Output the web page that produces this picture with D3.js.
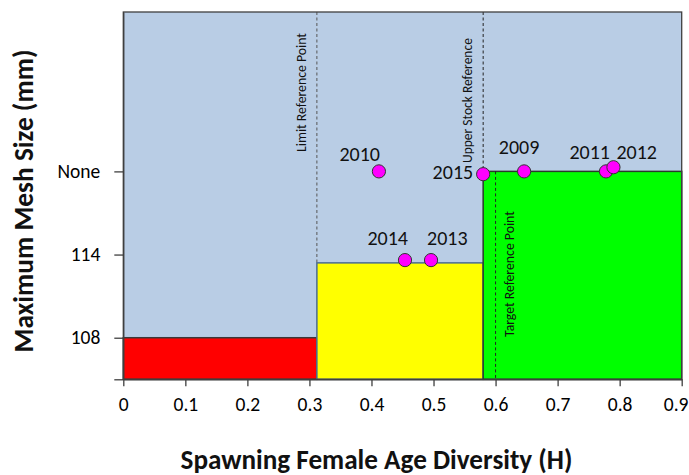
<!DOCTYPE html>
<html><head><meta charset="utf-8">
<script src="https://cdn.jsdelivr.net/npm/d3@7"></script>
<style>
html,body{margin:0;padding:0;background:#fff;}
svg{display:block;font-family:Carlito, Lato, "Open Sans", sans-serif;}
</style></head>
<body>
<div id="chart"></div>
<script>
// ---- data ----
const years = ["2009","2010","2011","2012","2013","2014","2015"];
const diversity = [0.646, 0.412, 0.778, 0.790, 0.496, 0.454, 0.580];
const meshSize = [120, 120, 120, 120.3, 113.6, 113.6, 119.8];

const zoneNames = ["Critical","Cautious","Healthy"];
const zoneStart = [0, 0.312, 0.580];
const zoneEnd = [0.312, 0.580, 0.9];
const zoneMesh = [108, 113.4, 120];
const zoneColors = ["#FF0000","#FFFF00","#00FF00"];

const refNames = ["Limit Reference Point","Upper Stock Reference","Target Reference Point"];
const refValues = [0.312, 0.580, 0.600];

const xTicks = [0,0.1,0.2,0.3,0.4,0.5,0.6,0.7,0.8,0.9];
const yTickValues = [108,114,120];
const yTickLabels = ["108","114","None"];

// ---- layout ----
const W = 689, H = 475;
const pL = 123.3, pR = 681.7, pT = 12, pB = 379.3;
const x = d3.scaleLinear().domain([0,0.9]).range([pL,pR]);
const y = d3.scaleLinear().domain([105,131.5]).range([pB,pT]);

const svg = d3.select("#chart").append("svg").attr("width",W).attr("height",H);

// background
svg.append("rect").attr("x",pL).attr("y",pT).attr("width",pR-pL).attr("height",pB-pT)
  .attr("fill","#B9CDE5");

// reference lines extents (line-end levels)
const refFrom = [131.5, 131.5, 120];
const refTo = [113.4, 120, 105];
const refColors = ["#555","#222","#222"];

// limit & upper lines under zones
[0,1].forEach(i=>{
  svg.append("line").attr("x1",x(refValues[i])).attr("x2",x(refValues[i]))
    .attr("y1",y(refFrom[i])).attr("y2",y(refTo[i]))
    .attr("stroke",refColors[i]).attr("stroke-width",1).attr("stroke-dasharray","3,2.5");
});

// zones
const zoneStroke = ["#3a3a3a","#4A6C96","#2b3a2b"];
svg.selectAll("rect.zone").data(zoneNames).enter().append("rect").attr("class","zone")
  .attr("x",(d,i)=>x(zoneStart[i]))
  .attr("y",(d,i)=>y(zoneMesh[i]))
  .attr("width",(d,i)=>x(zoneEnd[i])-x(zoneStart[i]))
  .attr("height",(d,i)=>y(105)-y(zoneMesh[i]))
  .attr("fill",(d,i)=>zoneColors[i])
  .attr("stroke",(d,i)=>zoneStroke[i]).attr("stroke-width",1.5);

// target line over green
svg.append("line").attr("x1",x(refValues[2])).attr("x2",x(refValues[2]))
  .attr("y1",y(refFrom[2])).attr("y2",y(refTo[2]))
  .attr("stroke",refColors[2]).attr("stroke-width",1).attr("stroke-dasharray","3,2.5");

// frame
svg.append("rect").attr("x",pL).attr("y",pT).attr("width",pR-pL).attr("height",pB-pT)
  .attr("fill","none").attr("stroke","#3f3f3f").attr("stroke-width",1.3);

function fit(sel, target){
  const w = sel.node().getComputedTextLength();
  const fs = parseFloat(sel.attr("font-size"));
  if (w > 0) sel.attr("font-size", fs*target/w);
}

// reference labels (rotated)
const refLabelX = [302, 468, 509.5];
const refLabelBottom = [152, 163, 337];
const refLabelLen = [119, 125, 126];
refNames.forEach((t,i)=>{
  const s = svg.append("text").attr("transform",`translate(${refLabelX[i]+4},${refLabelBottom[i]}) rotate(-90)`)
    .attr("font-size",11).attr("fill","#111").text(t);
  fit(s, refLabelLen[i]);
});

// axes
const xAxis = d3.axisBottom(x).tickValues(xTicks).tickSize(7).tickSizeOuter(0).tickPadding(11)
  .tickFormat(d=> d===0 ? "0" : d3.format(".1f")(d));
const gx = svg.append("g").attr("transform",`translate(0,${pB})`).call(xAxis);
gx.select(".domain").attr("stroke","#3f3f3f").attr("stroke-width",1.3);
gx.selectAll(".tick line").attr("stroke","#3f3f3f").attr("stroke-width",1.3);
gx.selectAll(".tick text").attr("font-size",19.5).attr("font-family","Carlito, Lato, sans-serif").attr("fill","#000");
// keep the last label inside the window
gx.selectAll(".tick text").filter(d=>d===0.9).attr("text-anchor","end").attr("x",688-pR);

const yAxis = d3.axisLeft(y).tickValues([105].concat(yTickValues)).tickSize(9).tickSizeOuter(0).tickPadding(14)
  .tickFormat(d=>{ const k = yTickValues.indexOf(d); return k>=0 ? yTickLabels[k] : ""; });
const gy = svg.append("g").attr("transform",`translate(${pL},0)`).call(yAxis);
gy.select(".domain").attr("stroke","#3f3f3f").attr("stroke-width",1.3);
gy.selectAll(".tick line").attr("stroke","#3f3f3f").attr("stroke-width",1.3);
gy.selectAll(".tick text").attr("font-size",19.5).attr("font-family","Carlito, Lato, sans-serif").attr("fill","#000");

// points
svg.selectAll("circle.pt").data(years).enter().append("circle").attr("class","pt")
  .attr("cx",(d,i)=>x(diversity[i])).attr("cy",(d,i)=>y(meshSize[i]))
  .attr("r",6.6).attr("fill","#FF00FF").attr("stroke","#333").attr("stroke-width",1);

// year labels: anchor, dx, dy relative to point
const labelAnchor = {"2009":"middle","2010":"end","2011":"end","2012":"start","2013":"start","2014":"end","2015":"end"};
const labelDx = {"2009":-5,"2010":1,"2011":4,"2012":3,"2013":-4,"2014":3,"2015":-10};
const labelDy = {"2009":-17.5,"2010":-10,"2011":-12.5,"2012":-8.5,"2013":-15,"2014":-15,"2015":5};
svg.selectAll("text.yr").data(years).enter().append("text").attr("class","yr")
  .attr("x",(d,i)=>x(diversity[i])+labelDx[d]).attr("y",(d,i)=>y(meshSize[i])+labelDy[d])
  .attr("text-anchor",d=>labelAnchor[d]).attr("font-size",20).attr("fill","#111").text(d=>d);

// axis titles
const xt = svg.append("text").attr("x",376.5).attr("y",469).attr("text-anchor","middle")
  .attr("font-weight","bold").attr("font-size",24).attr("fill","#111").text("Spawning Female Age Diversity (H)");
fit(xt, 392);
const yt = svg.append("text").attr("transform","translate(33,201) rotate(-90)").attr("text-anchor","middle")
  .attr("font-weight","bold").attr("font-size",24).attr("fill","#111").text("Maximum Mesh Size (mm)");
fit(yt, 303);
</script>
</body></html>
